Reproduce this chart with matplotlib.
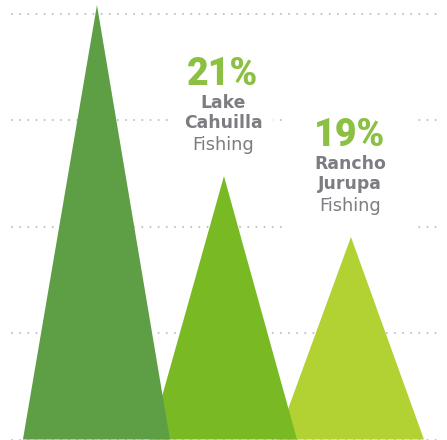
import matplotlib
matplotlib.use("Agg")
import matplotlib.pyplot as plt
from matplotlib.patches import Rectangle

# ---- data ----
categories = ["", "Lake Cahuilla", "Rancho Jurupa"]
name_line1 = ["", "Lake", "Rancho"]
name_line2 = ["", "Cahuilla", "Jurupa"]
name_line3 = ["", "Fishing", "Fishing"]
pct_labels = ["", "21%", "19%"]
heights = [102.1, 61.9, 47.6]
grid_values = [0, 25, 50, 75, 100]

# ---- style ----
colors = ["#5E9E45", "#78B924", "#B2D234"]
pct_color = "#8BC043"
gray = "#7C7D82"
grid_color = "#C0C0C0"
half_width = 0.575
box_width_px = [0, 100, 134]

W, H, DPI = 447, 440, 100
fig = plt.figure(figsize=(W / DPI, H / DPI), dpi=DPI)
ax_left, ax_right = 12, 441
ax_bottom_px = 0.5
ax = fig.add_axes([ax_left / W, ax_bottom_px / H, (ax_right - ax_left) / W, (H - ax_bottom_px) / H])

xmin, xmax = -0.661, 2.717
ymax = 103.3
ax.set_xlim(xmin, xmax)
ax.set_ylim(0, ymax)

px_per_x = (ax_right - ax_left) / (xmax - xmin)
px_per_y = (H - ax_bottom_px) / ymax

ax.set_yticks(grid_values)
ax.set_xticks([])
ax.tick_params(left=False, labelleft=False)
for s in ax.spines.values():
    s.set_visible(False)
for v in grid_values:
    ax.axhline(v, color=grid_color, linewidth=1.5, linestyle=(0, (0.01, 3.9)),
               dash_capstyle="round", zorder=0.5, clip_on=False)

x = list(range(len(heights)))
for i, h in enumerate(heights):
    ax.fill([x[i] - half_width, x[i] + 0.008, x[i] + half_width + 0.008], [0, h, 0],
            color=colors[i], linewidth=0, zorder=4 - i, clip_on=False)

for i, h in enumerate(heights):
    if not pct_labels[i]:
        continue
    # white background box behind label
    bw = box_width_px[i] / px_per_x
    top = h + 130 / px_per_y
    bot = h + 5 / px_per_y
    ax.add_patch(Rectangle((x[i] - bw / 2, bot), bw, top - bot,
                           facecolor="white", edgecolor="none", zorder=1))
    ax.annotate(pct_labels[i], xy=(x[i], h), xytext=(0, 65.5), textcoords="offset points",
                ha="center", va="baseline", fontsize=27, fontweight="black",
                family="Roboto", color=pct_color, zorder=6)
    ax.annotate(name_line1[i], xy=(x[i], h), xytext=(0, 49), textcoords="offset points",
                ha="center", va="baseline", fontsize=12.4, fontweight="bold",
                family="DejaVu Sans", color=gray, zorder=6)
    ax.annotate(name_line2[i], xy=(x[i], h), xytext=(0, 34.5), textcoords="offset points",
                ha="center", va="baseline", fontsize=12.4, fontweight="bold",
                family="DejaVu Sans", color=gray, zorder=6)
    ax.annotate(name_line3[i], xy=(x[i], h), xytext=(0, 18.7), textcoords="offset points",
                ha="center", va="baseline", fontsize=12.8,
                family="DejaVu Sans", color=gray, zorder=6)

fig.savefig("out.png", dpi=DPI)
